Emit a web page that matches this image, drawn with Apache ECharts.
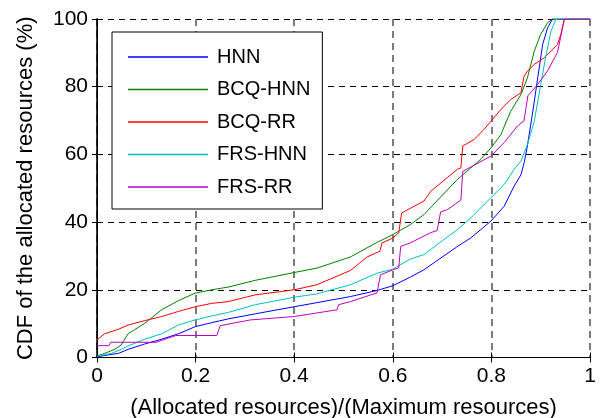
<!DOCTYPE html>
<html><head><meta charset="utf-8">
<script src="https://cdn.jsdelivr.net/npm/echarts@6/dist/echarts.min.js"></script>
<style>html,body{margin:0;padding:0;background:#fff}#c{width:600px;height:418px}</style>
</head><body><div id="c"></div>
<script>
const seriesNames = ['HNN', 'BCQ-HNN', 'BCQ-RR', 'FRS-HNN', 'FRS-RR'];
const xTicks = [0, 0.2, 0.4, 0.6, 0.8, 1];
const yTicks = [0, 20, 40, 60, 80, 100];

const hnnX = [0, 0.015, 0.043, 0.063, 0.097, 0.131, 0.165, 0.199, 0.233, 0.266, 0.321, 0.4, 0.446, 0.514, 0.568, 0.6, 0.636, 0.663, 0.731, 0.758, 0.799, 0.826, 0.846, 0.86, 0.867, 0.873, 0.884, 0.894, 0.904, 0.914, 0.924, 1];
const hnnY = [0.2, 0.6, 1.2, 2.4, 4, 5.4, 7, 9.1, 10.3, 11.4, 12.9, 15, 16.2, 18, 19.8, 21.2, 23.8, 25.9, 32.8, 35.3, 40.3, 44.7, 50.6, 54, 57.9, 62.5, 72.7, 82.6, 92.5, 97.4, 100, 100];

const bcqHnnX = [0, 0.015, 0.036, 0.049, 0.063, 0.097, 0.131, 0.165, 0.199, 0.233, 0.266, 0.321, 0.4, 0.446, 0.514, 0.568, 0.6, 0.636, 0.663, 0.731, 0.778, 0.799, 0.819, 0.839, 0.86, 0.873, 0.887, 0.9, 0.914, 0.924, 1];
const bcqHnnY = [0.4, 1.2, 2.4, 3.7, 7, 10.1, 14.1, 16.8, 19, 20, 20.8, 22.8, 25.1, 26.4, 29.7, 34, 36.3, 39.3, 42.2, 52.6, 58.5, 61.9, 65.8, 72.7, 77.7, 82.6, 90.5, 95.5, 98.9, 100, 100];

const bcqRrX = [0, 0.015, 0.043, 0.063, 0.097, 0.131, 0.165, 0.199, 0.233, 0.266, 0.321, 0.4, 0.446, 0.514, 0.548, 0.574, 0.578, 0.6, 0.612, 0.618, 0.663, 0.677, 0.731, 0.738, 0.742, 0.765, 0.785, 0.799, 0.819, 0.839, 0.86, 0.866, 0.873, 0.887, 0.907, 0.921, 0.934, 0.941, 0.948, 1];
const bcqRrY = [5.2, 7, 8.3, 9.6, 10.9, 12.1, 13.6, 15, 16, 16.5, 18.5, 20, 21.5, 25.7, 29.7, 31.4, 33.8, 35.3, 36.8, 42.7, 46.2, 49.1, 55.6, 56, 62.5, 64.4, 67.4, 69.8, 73.2, 76.2, 78.2, 83, 84.6, 86.6, 88.5, 90.5, 92.5, 95.5, 100, 100];

const frsHnnX = [0, 0.029, 0.049, 0.063, 0.097, 0.131, 0.165, 0.199, 0.233, 0.266, 0.321, 0.4, 0.446, 0.514, 0.568, 0.6, 0.636, 0.663, 0.731, 0.758, 0.799, 0.826, 0.846, 0.86, 0.873, 0.887, 0.9, 0.911, 0.921, 0.931, 1];
const frsHnnY = [0.4, 1.2, 2.4, 3.4, 5.4, 7, 9.6, 11.1, 12.3, 13.3, 15.6, 17.8, 18.8, 21.5, 24.9, 26.1, 29.1, 30.4, 37.8, 41.2, 47.2, 51.1, 55.6, 58, 62.9, 69.8, 80.6, 89.5, 96.4, 100, 100];

const frsRrX = [0, 0.024, 0.028, 0.12, 0.14, 0.16, 0.243, 0.25, 0.311, 0.4, 0.487, 0.49, 0.514, 0.568, 0.575, 0.6, 0.612, 0.616, 0.636, 0.677, 0.69, 0.697, 0.711, 0.738, 0.742, 0.799, 0.826, 0.853, 0.866, 0.874, 0.894, 0.914, 0.934, 0.948, 1];
const frsRrY = [3.5, 3.5, 4.5, 4.5, 5.5, 6.5, 6.5, 9.4, 11.1, 12.1, 14.1, 15.6, 16.5, 19.1, 24.4, 25.9, 26.5, 32.8, 33.9, 36.9, 37.5, 43, 43.7, 46.5, 55, 59.5, 63.5, 68.4, 69.9, 77.3, 80.7, 84.7, 90.1, 100, 100];

const colors = ['#0000ff', '#008000', '#ff0000', '#00bfbf', '#bf00bf'];
const xs = [hnnX, bcqHnnX, bcqRrX, frsHnnX, frsRrX];
const ys = [hnnY, bcqHnnY, bcqRrY, frsHnnY, frsRrY];

const FONT = 'Liberation Sans, Arial, sans-serif';
const chart = echarts.init(document.getElementById('c'), null, {renderer: 'canvas'});

const series = seriesNames.map((n, i) => ({
  name: n, type: 'line', symbol: 'none', showSymbol: false,
  data: xs[i].map((x, k) => [x, ys[i][k]]),
  lineStyle: {color: colors[i], width: 1},
  itemStyle: {color: colors[i]},
  xAxisIndex: 0, yAxisIndex: 0, z: 3
}));

chart.setOption({
  animation: false,
  backgroundColor: '#fff',
  grid: {left: 97, right: 10, top: 19, bottom: 60.5, containLabel: false, outerBoundsMode: 'none'},
  legend: {
    orient: 'vertical', left: 112, top: 32,
    data: seriesNames,
    icon: 'rect',
    backgroundColor: '#fff', borderColor: '#000', borderWidth: 1,
    padding: [15, 12, 12, 16],
    itemWidth: 80, itemHeight: 1.3, itemGap: 12.5,
    textStyle: {fontFamily: FONT, fontSize: 20, lineHeight: 18, color: '#000', padding: [0, 0, 0, 4]},
    z: 10
  },
  xAxis: [{
    type: 'value', min: 0, max: 1, interval: 0.2,
    name: '(Allocated resources)/(Maximum resources)',
    nameLocation: 'middle', nameGap: 39.5,
    nameTextStyle: {fontFamily: FONT, fontSize: 22, color: '#000'},
    axisLine: {show: true, lineStyle: {color: '#000', width: 1}},
    axisTick: {show: true, inside: true, length: 5, lineStyle: {color: '#000'}},
    axisLabel: {fontFamily: FONT, fontSize: 21, color: '#000', margin: 8,
      formatter: v => String(parseFloat(v.toFixed(1)))},
    splitLine: {show: true, lineStyle: {color: '#6e6e6e', width: 1.8, type: [7, 5]}}
  }, {
    type: 'value', min: 0, max: 1, interval: 0.2, position: 'top',
    axisLine: {show: true, lineStyle: {color: '#000', width: 1}},
    axisTick: {show: true, inside: true, length: 5, lineStyle: {color: '#000'}},
    axisLabel: {show: false}, splitLine: {show: false}
  }],
  yAxis: [{
    type: 'value', min: 0, max: 100, interval: 20,
    name: 'CDF of the allocated resources (%)',
    nameLocation: 'middle', nameGap: 60,
    nameTextStyle: {fontFamily: FONT, fontSize: 22, color: '#000'},
    axisLine: {show: true, lineStyle: {color: '#000', width: 1}},
    axisTick: {show: true, inside: true, length: 5, lineStyle: {color: '#000'}},
    axisLabel: {fontFamily: FONT, fontSize: 21, color: '#000', margin: 9},
    splitLine: {show: true, lineStyle: {color: '#000', width: 1, type: [6, 5]}}
  }, {
    type: 'value', min: 0, max: 100, interval: 20, position: 'right',
    axisLine: {show: true, lineStyle: {color: '#000', width: 1.5}},
    axisTick: {show: true, inside: true, length: 5, lineStyle: {color: '#000'}},
    axisLabel: {show: false}, splitLine: {show: false}
  }],
  series: series
});
</script></body></html>
